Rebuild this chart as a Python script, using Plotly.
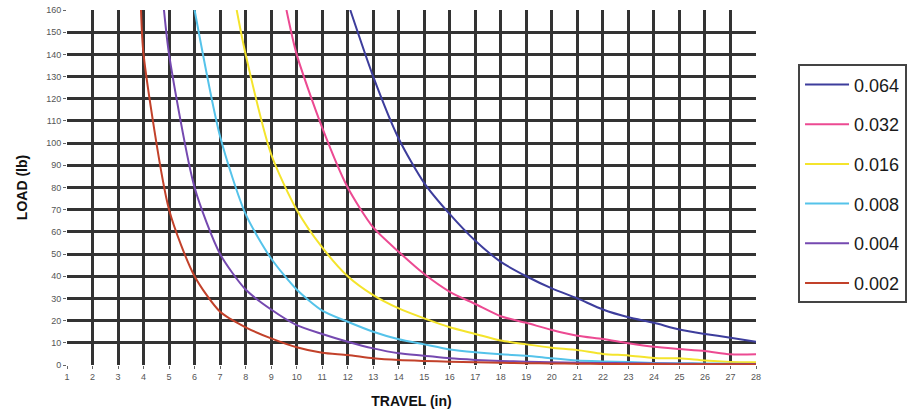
import plotly.graph_objects as go

# travel (in) / load (lb), one pair of lists per thickness
x_0064 = [12.1, 13, 14, 15, 16, 17, 18, 19, 20, 21, 22, 23, 24, 25, 26, 27, 28]
y_0064 = [160, 130, 102, 82, 68, 56, 46.5, 40, 34.5, 30, 25, 21.5, 19, 16, 14, 12.3, 10.5]

x_0032 = [9.6, 10, 11, 12, 13, 14, 15, 16, 17, 18, 19, 20, 21, 22, 23, 24, 25, 26, 27, 28]
y_0032 = [160, 140, 107, 80, 62, 51, 41, 33, 27.5, 22, 19, 15.8, 13.2, 11.7, 9.8, 8.2, 7.2, 6.3, 4.8, 4.8]

x_0016 = [7.65, 8, 9, 10, 11, 12, 13, 14, 15, 16, 17, 18, 19, 20, 21, 22, 23, 24, 25, 26, 27, 28]
y_0016 = [160, 140, 95, 70, 53, 40, 31.5, 25.5, 21, 17, 14, 11, 9.3, 7.8, 6.7, 5, 4.3, 3.2, 3, 2, 1.4, 1.2]

x_0008 = [6, 7, 8, 9, 10, 11, 12, 13, 14, 15, 16, 17, 18, 19, 20, 21, 22, 23, 24, 25, 26, 27, 28]
y_0008 = [160, 103, 68, 48, 34, 24.5, 19.5, 15, 11.6, 9.3, 7, 5.7, 4.8, 4.2, 3, 2, 1.6, 1.3, 0.9, 0.8, 0.7, 0.6, 0.5]

x_0004 = [4.8, 5, 6, 7, 8, 9, 10, 11, 12, 13, 14, 15, 16, 17, 18, 19, 20, 21, 22, 23, 24, 25, 26, 27, 28]
y_0004 = [160, 140, 80, 50, 34, 25, 18, 14, 10.5, 7.5, 5.3, 4.2, 3, 2.3, 1.8, 1.5, 1.2, 1, 0.9, 0.8, 0.7, 0.6, 0.5, 0.5, 0.4]

x_0002 = [3.9, 4, 5, 6, 7, 8, 9, 10, 11, 12, 13, 14, 15, 16, 17, 18, 19, 20, 21, 22, 23, 24, 25, 26, 27, 28]
y_0002 = [160, 140, 70, 40, 24, 17, 12, 8, 5.5, 4.5, 3, 2.2, 1.8, 1.5, 1.2, 1, 0.8, 0.7, 0.6, 0.5, 0.4, 0.4, 0.3, 0.3, 0.3, 0.2]

names = ["0.064", "0.032", "0.016", "0.008", "0.004", "0.002"]
xs = [x_0064, x_0032, x_0016, x_0008, x_0004, x_0002]
ys = [y_0064, y_0032, y_0016, y_0008, y_0004, y_0002]
colors = ["#3d3d9c", "#ec4a92", "#f4e42c", "#55c3ea", "#7549b0", "#c2412a"]

fig = go.Figure()
for name, x, y, c in zip(names, xs, ys, colors):
    fig.add_trace(go.Scatter(x=x, y=y, name=name, mode="lines", legendgroup=name,
                             line=dict(color=c, width=2, shape="spline", smoothing=0.7)))

fig.update_layout(
    width=907, height=419,
    margin=dict(l=67, r=151, t=10, b=54, autoexpand=False),
    paper_bgcolor="white", plot_bgcolor="white",
    font=dict(family="Liberation Sans, Arial, sans-serif", color="#222"),
    legend=dict(x=1.061, y=0.847, xanchor="left", yanchor="top",
                bordercolor="#444", borderwidth=2, bgcolor="white",
                itemwidth=44, entrywidth=54,
                font=dict(size=18, color="#1a1a1a"), tracegroupgap=13.3),
    xaxis=dict(range=[1, 28], dtick=1, tick0=1, showgrid=True, gridcolor="#333",
               gridwidth=2.5, zeroline=False, ticks="outside", ticklen=3,
               tickcolor="#666", tickfont=dict(size=9, color="#555"), automargin=False,
               title=dict(text="<b>TRAVEL (in)</b>", font=dict(size=14, color="#111"))),
    yaxis=dict(range=[0, 160], dtick=10, showgrid=True, gridcolor="#333",
               gridwidth=2.5, zeroline=False, ticks="outside", ticklen=3,
               tickcolor="#666", tickfont=dict(size=9, color="#555"), automargin=False,
               ticklabeloverflow="allow",
               title=dict(text="<b>LOAD (lb)</b>", font=dict(size=14, color="#111"))),
)

# drop the page's default 8px body margin so the figure sits at the window corner
fig.write_html("out.html", config={"displayModeBar": False},
               post_script="document.body.style.margin = '0';")
